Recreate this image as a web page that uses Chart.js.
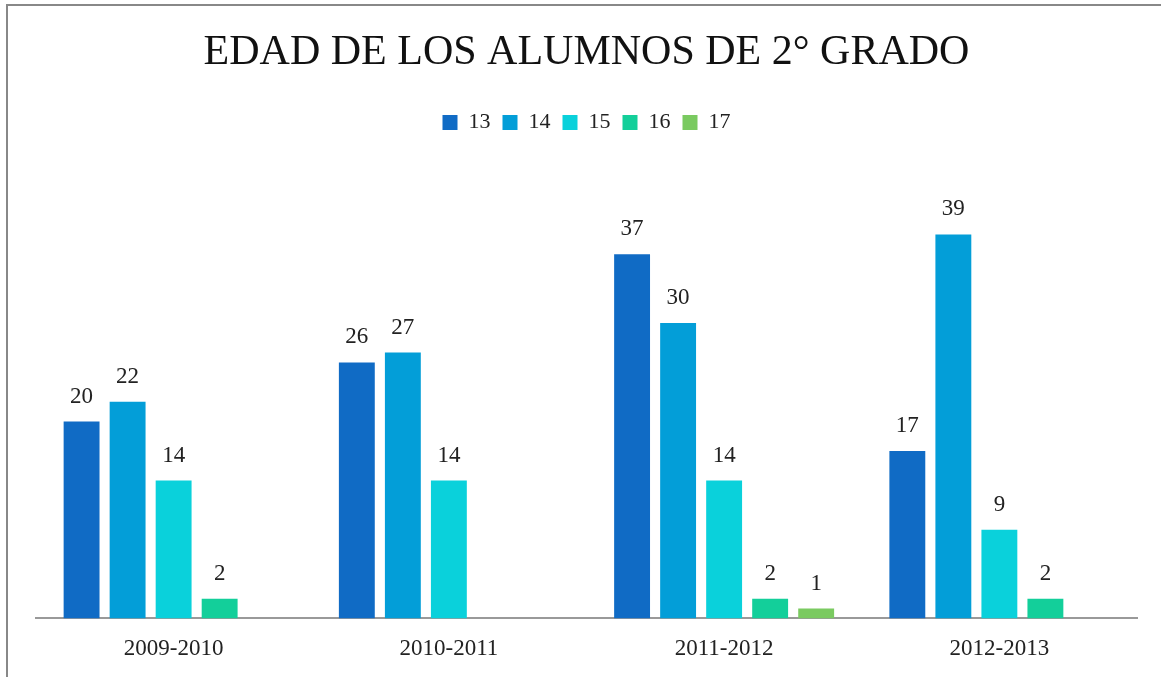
<!DOCTYPE html>
<html>
<head>
<meta charset="utf-8">
<script src="https://cdn.jsdelivr.net/npm/chart.js@4.4.0/dist/chart.umd.min.js"></script>
<style>
  html, body { margin: 0; padding: 0; background: #fff; overflow: hidden; }
  #wrap { width: 1161px; height: 680px; position: relative; }
</style>
</head>
<body>
<div id="wrap"><canvas id="chart"></canvas></div>
<script>
// data
const periods = ['2009-2010', '2010-2011', '2011-2012', '2012-2013'];
const ages = ['13', '14', '15', '16', '17'];
const age13 = [20, 26, 37, 17];
const age14 = [22, 27, 30, 39];
const age15 = [14, 14, 14, 9];
const age16 = [2, null, 2, 2];
const age17 = [null, null, 1, null];
const colors = ['#106BC5', '#039ED8', '#0AD1DB', '#13CF9A', '#7ACA60'];

const serif = "'Liberation Serif', 'DejaVu Serif', serif";

// outer frame (only top and left edges show in the picture)
const framePlugin = {
  id: 'frame',
  beforeDraw(chart) {
    const ctx = chart.ctx;
    ctx.save();
    ctx.strokeStyle = '#888';
    ctx.lineWidth = 2;
    ctx.beginPath();
    ctx.moveTo(7, 680);
    ctx.lineTo(7, 5);
    ctx.lineTo(1161, 5);
    ctx.stroke();
    ctx.restore();
  }
};

// extra room under the legend
const legendGap = {
  id: 'legendGap',
  beforeInit(chart) {
    const fit = chart.legend.fit;
    chart.legend.fit = function () {
      fit.bind(chart.legend)();
      this.height += 32;
    };
  }
};

// value labels above bars
const labelPlugin = {
  id: 'valueLabels',
  afterDatasetsDraw(chart) {
    const ctx = chart.ctx;
    ctx.save();
    ctx.font = '23px ' + serif;
    ctx.fillStyle = '#222';
    ctx.textAlign = 'center';
    ctx.textBaseline = 'alphabetic';
    chart.data.datasets.forEach((ds, i) => {
      const meta = chart.getDatasetMeta(i);
      meta.data.forEach((bar, j) => {
        const v = ds.data[j];
        if (v == null) return;
        ctx.fillText(String(v), bar.x, bar.y - 19);
      });
    });
    ctx.restore();
  }
};

const seriesData = [age13, age14, age15, age16, age17];

new Chart(document.getElementById('chart'), {
  type: 'bar',
  data: {
    labels: periods,
    datasets: ages.map((a, i) => ({
      label: a,
      data: seriesData[i],
      backgroundColor: colors[i],
      borderWidth: 0,
      categoryPercentage: 0.836,
      barPercentage: 0.78
    }))
  },
  options: {
    responsive: true,
    maintainAspectRatio: false,
    animation: false,
    layout: { padding: { left: 36, right: 24, top: 14, bottom: 0 } },
    plugins: {
      title: {
        display: true,
        text: 'EDAD DE LOS ALUMNOS DE 2° GRADO',
        color: '#111',
        font: { family: serif, size: 42, weight: 'normal' },
        padding: { top: 14, bottom: 21 }
      },
      legend: {
        position: 'top',
        labels: {
          color: '#222',
          font: { family: serif, size: 22 },
          boxWidth: 15,
          boxHeight: 15,
          padding: 12
        }
      },
      tooltip: { enabled: false }
    },
    scales: {
      x: {
        grid: { display: false, drawTicks: false },
        border: { color: '#999', width: 2 },
        ticks: { color: '#222', font: { family: serif, size: 23 }, padding: 17 }
      },
      y: {
        display: false,
        min: 0,
        max: 45
      }
    }
  },
  plugins: [framePlugin, legendGap, labelPlugin]
});
</script>
</body>
</html>
